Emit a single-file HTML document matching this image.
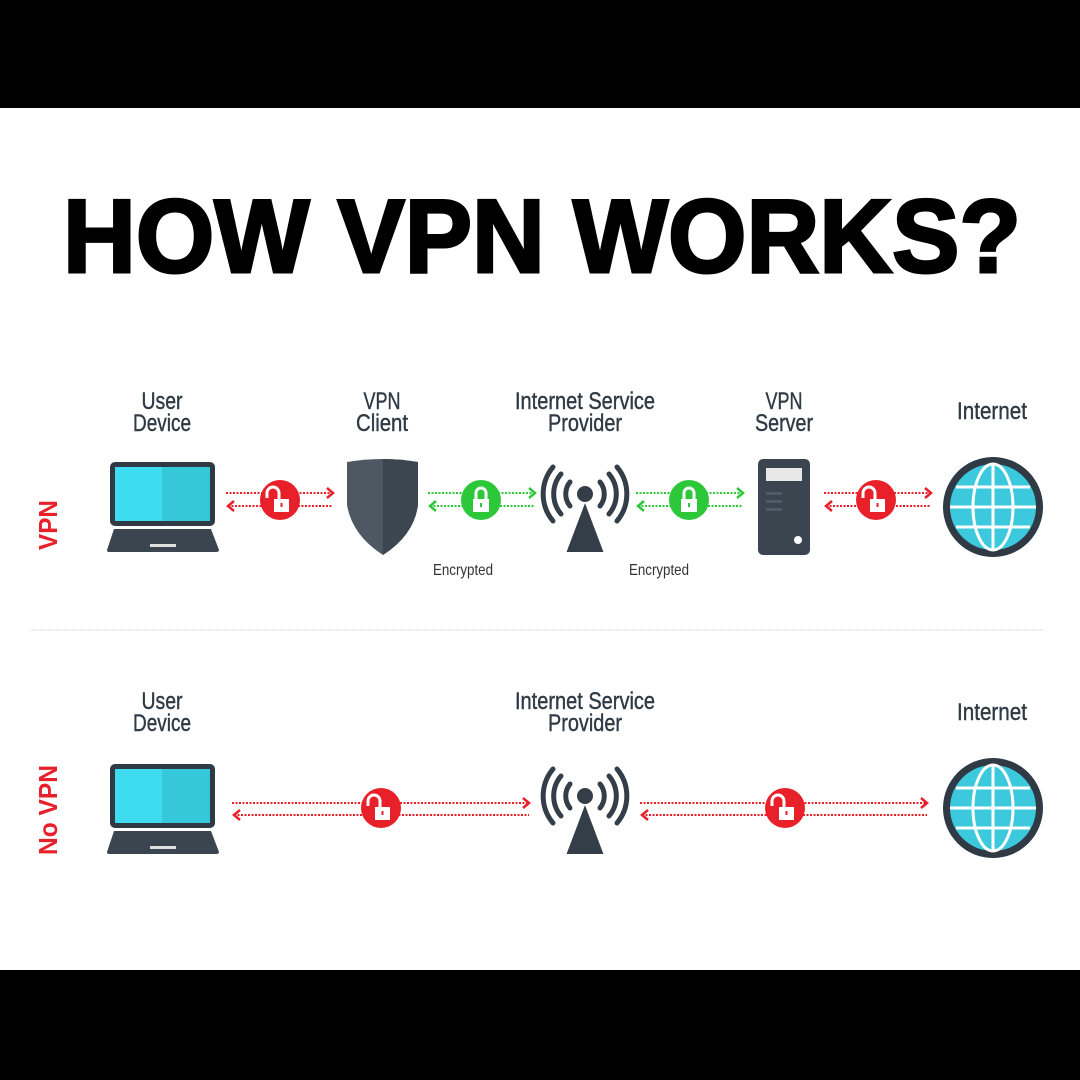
<!DOCTYPE html>
<html><head><meta charset="utf-8"><style>
html,body{margin:0;padding:0;background:#fff}
svg{display:block}
.lbl{font-family:"Liberation Sans",sans-serif;font-size:24px;fill:#2f3a45;text-anchor:middle;stroke:#2f3a45;stroke-width:0.4}
.enc{font-family:"Liberation Sans",sans-serif;font-size:16px;fill:#333;text-anchor:middle}
</style></head><body>
<svg width="1080" height="1080" viewBox="0 0 1080 1080" xmlns="http://www.w3.org/2000/svg">
<defs>
<g id="laptop">
 <rect x="0" y="0" width="105" height="64" rx="5" fill="#2f3a45"/>
 <rect x="5" y="5" width="95" height="54" fill="#3ddcf0"/>
 <rect x="52" y="5" width="48" height="54" fill="#34c8d8"/>
 <path d="M4,67 L101,67 L109,88 Q109,90 106,90 L-1,90 Q-3,90 -3,88 Z" fill="#3a4550"/>
 <rect x="40" y="82" width="26" height="3" fill="#e0e0e0"/>
</g>
<g id="tower" fill="none" stroke="#333e48" stroke-width="5" stroke-linecap="round">
 <path d="M-17,57 L0,12 L17,57 Z" fill="#333e48" stroke-width="2"/>
 <circle cx="0" cy="0" r="8" fill="#333e48" stroke="none"/>
 <path d="M-15,-12 A19,19 0 0 0 -15,12"/><path d="M15,-12 A19,19 0 0 1 15,12"/>
 <path d="M-24,-20 A31,31 0 0 0 -24,20"/><path d="M24,-20 A31,31 0 0 1 24,20"/>
 <path d="M-32,-27 A42,42 0 0 0 -32,27"/><path d="M32,-27 A42,42 0 0 1 32,27"/>
</g>
<g id="globe">
 <circle r="50" fill="#2f3a45"/>
 <circle r="43" fill="#3cc9dd"/>
 <g fill="none" stroke="#fff" stroke-width="3">
  <ellipse rx="20" ry="43"/><line x1="0" y1="-43" x2="0" y2="43"/>
  <line x1="-43" y1="0" x2="43" y2="0"/>
  <line x1="-37" y1="-20" x2="37" y2="-20"/><line x1="-37" y1="20" x2="37" y2="20"/>
 </g>
</g>
<g id="lockr">
 <circle r="20" fill="#e8202a"/>
 <path d="M-1,0 L-1,-7 A6,6 0 0 0 -13,-7 L-13,-2" fill="none" stroke="#fff" stroke-width="3"/>
 <rect x="-6" y="-1" width="15" height="13" fill="#fff"/>
 <rect x="0.5" y="3" width="2" height="4" fill="#e8202a"/>
</g>
<g id="lockg">
 <circle r="20" fill="#2cc83a"/>
 <path d="M-5,-1 L-5,-7 A5,5 0 0 1 5,-7 L5,-1" fill="none" stroke="#fff" stroke-width="3"/>
 <rect x="-8" y="-1" width="16" height="13" fill="#fff"/>
 <rect x="-1" y="3" width="2" height="4" fill="#2cc83a"/>
</g>
</defs>

<rect x="0" y="0" width="1080" height="108" fill="#000"/>
<rect x="0" y="970" width="1080" height="110" fill="#000"/>

<text x="542" y="272" text-anchor="middle" font-family="Liberation Sans, sans-serif" font-weight="bold" font-size="104" fill="#000" stroke="#000" stroke-width="3" textLength="958" lengthAdjust="spacingAndGlyphs">HOW VPN WORKS?</text>

<!-- Row 1 labels -->
<text class="lbl" x="162" y="409" textLength="41" lengthAdjust="spacingAndGlyphs">User</text><text class="lbl" x="162" y="431" textLength="58" lengthAdjust="spacingAndGlyphs">Device</text>
<text class="lbl" x="382" y="409" textLength="37" lengthAdjust="spacingAndGlyphs">VPN</text><text class="lbl" x="382" y="431" textLength="52" lengthAdjust="spacingAndGlyphs">Client</text>
<text class="lbl" x="585" y="409" textLength="140" lengthAdjust="spacingAndGlyphs">Internet Service</text><text class="lbl" x="585" y="431" textLength="74" lengthAdjust="spacingAndGlyphs">Provider</text>
<text class="lbl" x="784" y="409" textLength="37" lengthAdjust="spacingAndGlyphs">VPN</text><text class="lbl" x="784" y="431" textLength="58" lengthAdjust="spacingAndGlyphs">Server</text>
<text class="lbl" x="992" y="419" textLength="70" lengthAdjust="spacingAndGlyphs">Internet</text>

<text transform="translate(57,525) rotate(-90)" text-anchor="middle" font-family="Liberation Sans, sans-serif" font-weight="bold" font-size="26" fill="#e8202a" textLength="50" lengthAdjust="spacingAndGlyphs">VPN</text>
<text transform="translate(57,810) rotate(-90)" text-anchor="middle" font-family="Liberation Sans, sans-serif" font-weight="bold" font-size="26" fill="#e8202a" textLength="90" lengthAdjust="spacingAndGlyphs">No VPN</text>

<use href="#laptop" x="110" y="462"/>
<path d="M347,462 Q383,456 418,462 L418,505 Q414,535 383,555 Q352,535 347,505 Z" fill="#4d5863"/>
<path d="M383,459 Q400,459 418,462 L418,505 Q414,535 383,555 Z" fill="#3c4650"/>
<use href="#tower" x="585" y="494"/>
<rect x="758" y="459" width="52" height="96" rx="5" fill="#3a4550"/>
<rect x="766" y="468" width="36" height="13" fill="#e8e8e8"/>
<rect x="766" y="492" width="16" height="3" fill="#4e5a66"/>
<rect x="766" y="500" width="16" height="3" fill="#4e5a66"/>
<rect x="766" y="508" width="16" height="3" fill="#4e5a66"/>
<circle cx="798" cy="540" r="4" fill="#fff"/>
<use href="#globe" x="993" y="507"/>

<g fill="none" stroke-width="2" stroke-dasharray="2,1.5">
 <g stroke="#e8202a">
  <line x1="226" y1="493" x2="331" y2="493"/><line x1="228" y1="506" x2="333" y2="506"/>
  <line x1="824" y1="493" x2="929" y2="493"/><line x1="826" y1="506" x2="931" y2="506"/>
  <line x1="232" y1="803" x2="527" y2="803"/><line x1="234" y1="815" x2="529" y2="815"/>
  <line x1="640" y1="803" x2="925" y2="803"/><line x1="642" y1="815" x2="927" y2="815"/>
 </g>
 <g stroke="#2cc83a">
  <line x1="428" y1="493" x2="533" y2="493"/><line x1="430" y1="506" x2="535" y2="506"/>
  <line x1="636" y1="493" x2="741" y2="493"/><line x1="638" y1="506" x2="743" y2="506"/>
 </g>
</g>
<g fill="none" stroke-width="2.5">
 <g stroke="#e8202a">
  <path d="M327,488 L333,493 L327,498"/><path d="M234,501 L228,506 L234,511"/>
  <path d="M925,488 L931,493 L925,498"/><path d="M832,501 L826,506 L832,511"/>
  <path d="M523,798 L529,803 L523,808"/><path d="M240,810 L234,815 L240,820"/>
  <path d="M921,798 L927,803 L921,808"/><path d="M648,810 L642,815 L648,820"/>
 </g>
 <g stroke="#2cc83a">
  <path d="M529,488 L535,493 L529,498"/><path d="M436,501 L430,506 L436,511"/>
  <path d="M737,488 L743,493 L737,498"/><path d="M644,501 L638,506 L644,511"/>
 </g>
</g>
<use href="#lockr" x="280" y="500"/>
<use href="#lockg" x="481" y="500"/>
<use href="#lockg" x="689" y="500"/>
<use href="#lockr" x="876" y="500"/>
<use href="#lockr" x="381" y="808"/>
<use href="#lockr" x="785" y="808"/>

<text class="enc" x="463" y="575" textLength="60" lengthAdjust="spacingAndGlyphs">Encrypted</text>
<text class="enc" x="659" y="575" textLength="60" lengthAdjust="spacingAndGlyphs">Encrypted</text>

<line x1="30" y1="630" x2="1043" y2="630" stroke="#ccc" stroke-width="1" stroke-dasharray="1,1"/>

<!-- Row 2 -->
<text class="lbl" x="162" y="709" textLength="41" lengthAdjust="spacingAndGlyphs">User</text><text class="lbl" x="162" y="731" textLength="58" lengthAdjust="spacingAndGlyphs">Device</text>
<text class="lbl" x="585" y="709" textLength="140" lengthAdjust="spacingAndGlyphs">Internet Service</text><text class="lbl" x="585" y="731" textLength="74" lengthAdjust="spacingAndGlyphs">Provider</text>
<text class="lbl" x="992" y="720" textLength="70" lengthAdjust="spacingAndGlyphs">Internet</text>
<use href="#laptop" x="110" y="764"/>
<use href="#tower" x="585" y="796"/>
<use href="#globe" x="993" y="808"/>
</svg>
</body></html>
